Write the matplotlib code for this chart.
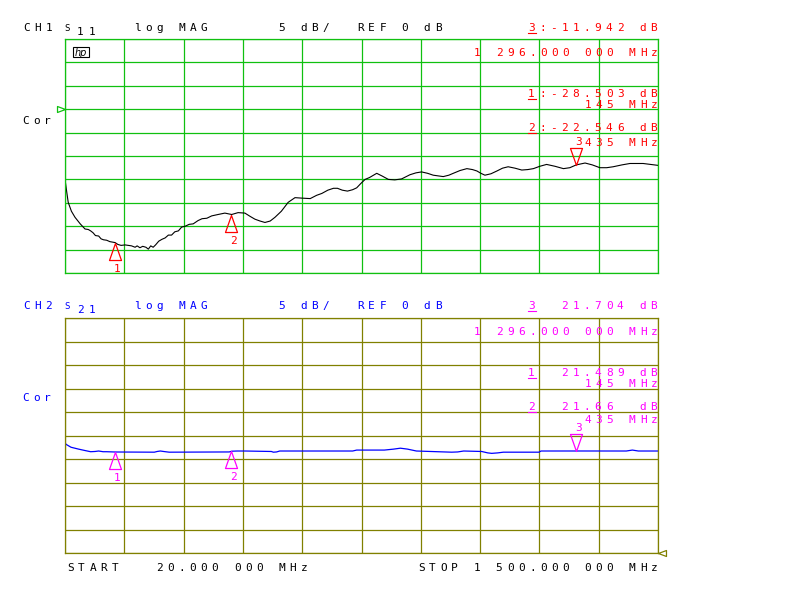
import matplotlib
matplotlib.use("Agg")
import numpy as np
import matplotlib.pyplot as plt
from matplotlib.path import Path
from matplotlib.patches import Rectangle
from matplotlib.lines import Line2D

W, H = 800, 600
PITCH = 11.1          # fixed character pitch of the analyzer font, px

GREEN = '#10c010'
OLIVE = '#808000'
RED = '#ff0000'
MAGENTA = '#ff00ff'
BLUE = '#0000ff'

# sweep
f_start, f_stop = 20.0, 1500.0

# CH1  S11 log MAG (dB) vs frequency (MHz)
s11_freq = [20, 24, 28, 36, 45, 58, 70, 78, 84, 90, 96, 104, 110, 116, 124, 132,
            145, 152, 160, 170, 186, 195, 200, 207, 214, 222, 228, 234, 240, 246,
            254, 262, 270, 278, 286, 294, 303, 311, 320, 330, 340, 352, 362, 374,
            386, 402, 419, 436, 452, 469, 482, 494, 507, 519, 532, 544, 560, 577,
            594, 611, 632, 648, 661, 676, 690, 700, 712, 725, 738, 748, 758, 769,
            780, 798, 812, 827, 843, 860, 881, 896, 910, 925, 939, 964, 978, 989,
            1006, 1023, 1037, 1048, 1058, 1068, 1083, 1098, 1112, 1126, 1143, 1160,
            1175, 1189, 1205, 1222, 1243, 1264, 1280, 1296, 1318, 1336, 1355, 1372,
            1388, 1410, 1430, 1463, 1500]
s11_db = [-15.0, -17.5, -19.9, -21.8, -23.1, -24.5, -25.6, -25.7, -26.0, -26.4, -27.0,
          -27.1, -27.7, -27.9, -28.0, -28.3, -28.5, -28.9, -29.1, -29.0, -29.2, -29.5,
          -29.2, -29.6, -29.3, -29.5, -29.9, -29.2, -29.5, -29.0, -28.2, -27.8, -27.5,
          -26.9, -26.9, -26.2, -26.0, -25.2, -25.0, -24.6, -24.5, -23.8, -23.4, -23.3,
          -22.8, -22.5, -22.2, -22.5, -22.1, -22.2, -22.9, -23.5, -23.9, -24.2, -23.9,
          -23.1, -21.8, -19.9, -18.9, -19.0, -19.1, -18.4, -18.0, -17.3, -16.9, -16.9,
          -17.3, -17.5, -17.2, -16.8, -15.9, -15.0, -14.6, -13.7, -14.3, -15.0, -15.1,
          -14.9, -14.0, -13.6, -13.4, -13.7, -14.1, -14.4, -14.1, -13.7, -13.1, -12.7,
          -12.9, -13.2, -13.7, -14.1, -13.8, -13.2, -12.6, -12.3, -12.6, -13.0, -12.9,
          -12.7, -12.2, -11.8, -12.2, -12.7, -12.5, -11.9, -11.5, -11.9, -12.5, -12.5,
          -12.3, -11.9, -11.6, -11.6, -12.0]

# CH2  S21 log MAG (dB)
s21_freq = [20, 23, 35, 54, 70, 84, 95, 104, 115, 124, 145, 243, 250, 258, 266, 280,
            430, 436, 450, 470, 535, 540, 548, 556, 738, 748, 817, 840, 857, 875, 897,
            985, 1000, 1015, 1060, 1075, 1085, 1100, 1114, 1203, 1208, 1296, 1421,
            1436, 1451, 1500]
s21_db = [23.4, 23.1, 22.5, 22.1, 21.8, 21.55, 21.6, 21.7, 21.55, 21.55, 21.49, 21.45,
          21.6, 21.7, 21.6, 21.45, 21.5, 21.66, 21.7, 21.7, 21.6, 21.45, 21.5, 21.7,
          21.7, 21.9, 21.9, 22.1, 22.3, 22.1, 21.7, 21.45, 21.5, 21.7, 21.6, 21.3,
          21.2, 21.3, 21.45, 21.45, 21.7, 21.704, 21.7, 21.9, 21.7, 21.7]

# markers
mk_freq = [145, 435, 1296]
s11_mk = [-28.503, -22.546, -11.942]
s21_mk = [21.489, 21.66, 21.704]

ch1_head = ["CH1", "S", "11", "log MAG", "5 dB/", "REF 0 dB"]
ch2_head = ["CH2", "S", "21", "log MAG", "5 dB/", "REF 0 dB"]
ch1_read = ["3:-11.942 dB", "1 296.000 000 MHz", "1:-28.503 dB", "145 MHz",
            "2:-22.546 dB", "435 MHz"]
ch2_read = ["3  21.704 dB", "1 296.000 000 MHz", "1  21.489 dB", "145 MHz",
            "2  21.66  dB", "435 MHz"]

fig = plt.figure(figsize=(8, 6), dpi=100)
fig.patch.set_facecolor('white')


def px(x, y):
    return x / W, 1 - y / H


def hp_text(x, y, s, color, size=8):
    # fixed-pitch text, x = left of first cell, y = baseline (px from top)
    for i, ch in enumerate(s):
        if ch == ' ':
            continue
        fx, fy = px(x + i * PITCH + 3.5, y)
        fig.text(fx, fy, ch, color=color, fontsize=size, family='DejaVu Sans Mono',
                 ha='center', va='baseline')


def hp_right(xr, y, s, color):
    hp_text(xr - (len(s) - 1) * PITCH - 7, y, s, color)


def underline(x, y, color):
    fig.add_artist(Line2D([x / W, (x + 8) / W], [1 - y / H] * 2, color=color, lw=0.8))


def setup(ax, ylim, gcol):
    ax.set_xlim(f_start, f_stop)
    ax.set_ylim(*ylim)
    ax.set_xticks(np.linspace(f_start, f_stop, 11))
    ax.set_yticks(np.arange(ylim[0], ylim[1] + 1, 5))
    ax.tick_params(length=0, labelbottom=False, labelleft=False)
    ax.grid(True, color=gcol, lw=0.9)
    for sp in ax.spines.values():
        sp.set_color(gcol)
        sp.set_linewidth(0.9)


up = Path([(0, 0), (-6, -17), (6, -17), (0, 0)],
          [Path.MOVETO, Path.LINETO, Path.LINETO, Path.CLOSEPOLY])
down = Path([(0, 0), (-6, 17), (6, 17), (0, 0)],
            [Path.MOVETO, Path.LINETO, Path.LINETO, Path.CLOSEPOLY])
ref_r = Path([(0, 0), (-8, 3), (-8, -3), (0, 0)],
             [Path.MOVETO, Path.LINETO, Path.LINETO, Path.CLOSEPOLY])
ref_l = Path([(0, 0), (8, 3), (8, -3), (0, 0)],
             [Path.MOVETO, Path.LINETO, Path.LINETO, Path.CLOSEPOLY])


def markers(ax, vals, color):
    ax.plot(mk_freq[:2], vals[:2], ls='none', marker=up, ms=24.5, mfc='none',
            mec=color, mew=0.9, clip_on=False)
    ax.plot(mk_freq[2:], vals[2:], ls='none', marker=down, ms=24.5, mfc='none',
            mec=color, mew=0.9, clip_on=False)
    for i, (f, v) in enumerate(zip(mk_freq, vals)):
        dy = -29 if i < 2 else 20
        ax.annotate(str(i + 1), (f, v), xytext=(2, dy), textcoords='offset pixels',
                    ha='center', va='baseline', color=color, fontsize=8,
                    family='DejaVu Sans Mono', annotation_clip=False)


# ---- CH1
ax1 = fig.add_axes([65 / W, 1 - 273 / H, 593 / W, 234 / H])
setup(ax1, (-35, 15), GREEN)
ax1.plot(s11_freq, s11_db, color='black', lw=0.8)
markers(ax1, s11_mk, RED)
ax1.plot([f_start], [0], ls='none', marker=ref_r, ms=11.5, mfc='none', mec=GREEN,
         mew=0.9, clip_on=False)

# ---- CH2
ax2 = fig.add_axes([65 / W, 1 - 553 / H, 593 / W, 235 / H])
setup(ax2, (0, 50), OLIVE)
ax2.plot(s21_freq, s21_db, color=BLUE, lw=0.9)
markers(ax2, s21_mk, MAGENTA)
ax2.plot([f_stop], [0], ls='none', marker=ref_l, ms=11.5, mfc='none', mec=OLIVE,
         mew=0.9, clip_on=False)

# headers
head_x = [23, 64, 77, 134, 278, 357]
for heads, y0, col in [(ch1_head, 31, 'black'), (ch2_head, 309, BLUE)]:
    for s, x in zip(heads, head_x):
        if s == "S":
            hp_text(x, y0, s, col, size=6.5)
        elif s.isdigit():
            hp_text(x, y0 + 4, s, col)
        else:
            hp_text(x, y0, s, col)

# marker readouts
for read, ys, col in [(ch1_read, [31, 56, 97, 108, 131, 146], RED),
                      (ch2_read, [309, 335, 376, 387, 410, 423], MAGENTA)]:
    for k, (s, y) in enumerate(zip(read, ys)):
        if k % 2 == 0:
            hp_text(528, y, s, col)
            underline(528, y + 1.5, col)
        else:
            hp_right(658, y, s, col)

hp_text(22, 124, "Cor", 'black')
hp_text(22, 401, "Cor", BLUE)

# hp logo
x0, y0 = px(73, 57)
fig.add_artist(Rectangle((x0, y0), 16 / W, 10 / H, transform=fig.transFigure,
                         fill=False, ec='black', lw=0.8))
fx, fy = px(81, 52.5)
fig.text(fx, fy, "hp", fontsize=7, style='italic',
         ha='center', va='center')

# sweep annotation
hp_text(67, 571, "START", 'black')
hp_text(156, 571, "20.000 000 MHz", 'black')
hp_right(658, 571, "STOP 1 500.000 000 MHz", 'black')

fig.savefig('out.png', dpi=100)
